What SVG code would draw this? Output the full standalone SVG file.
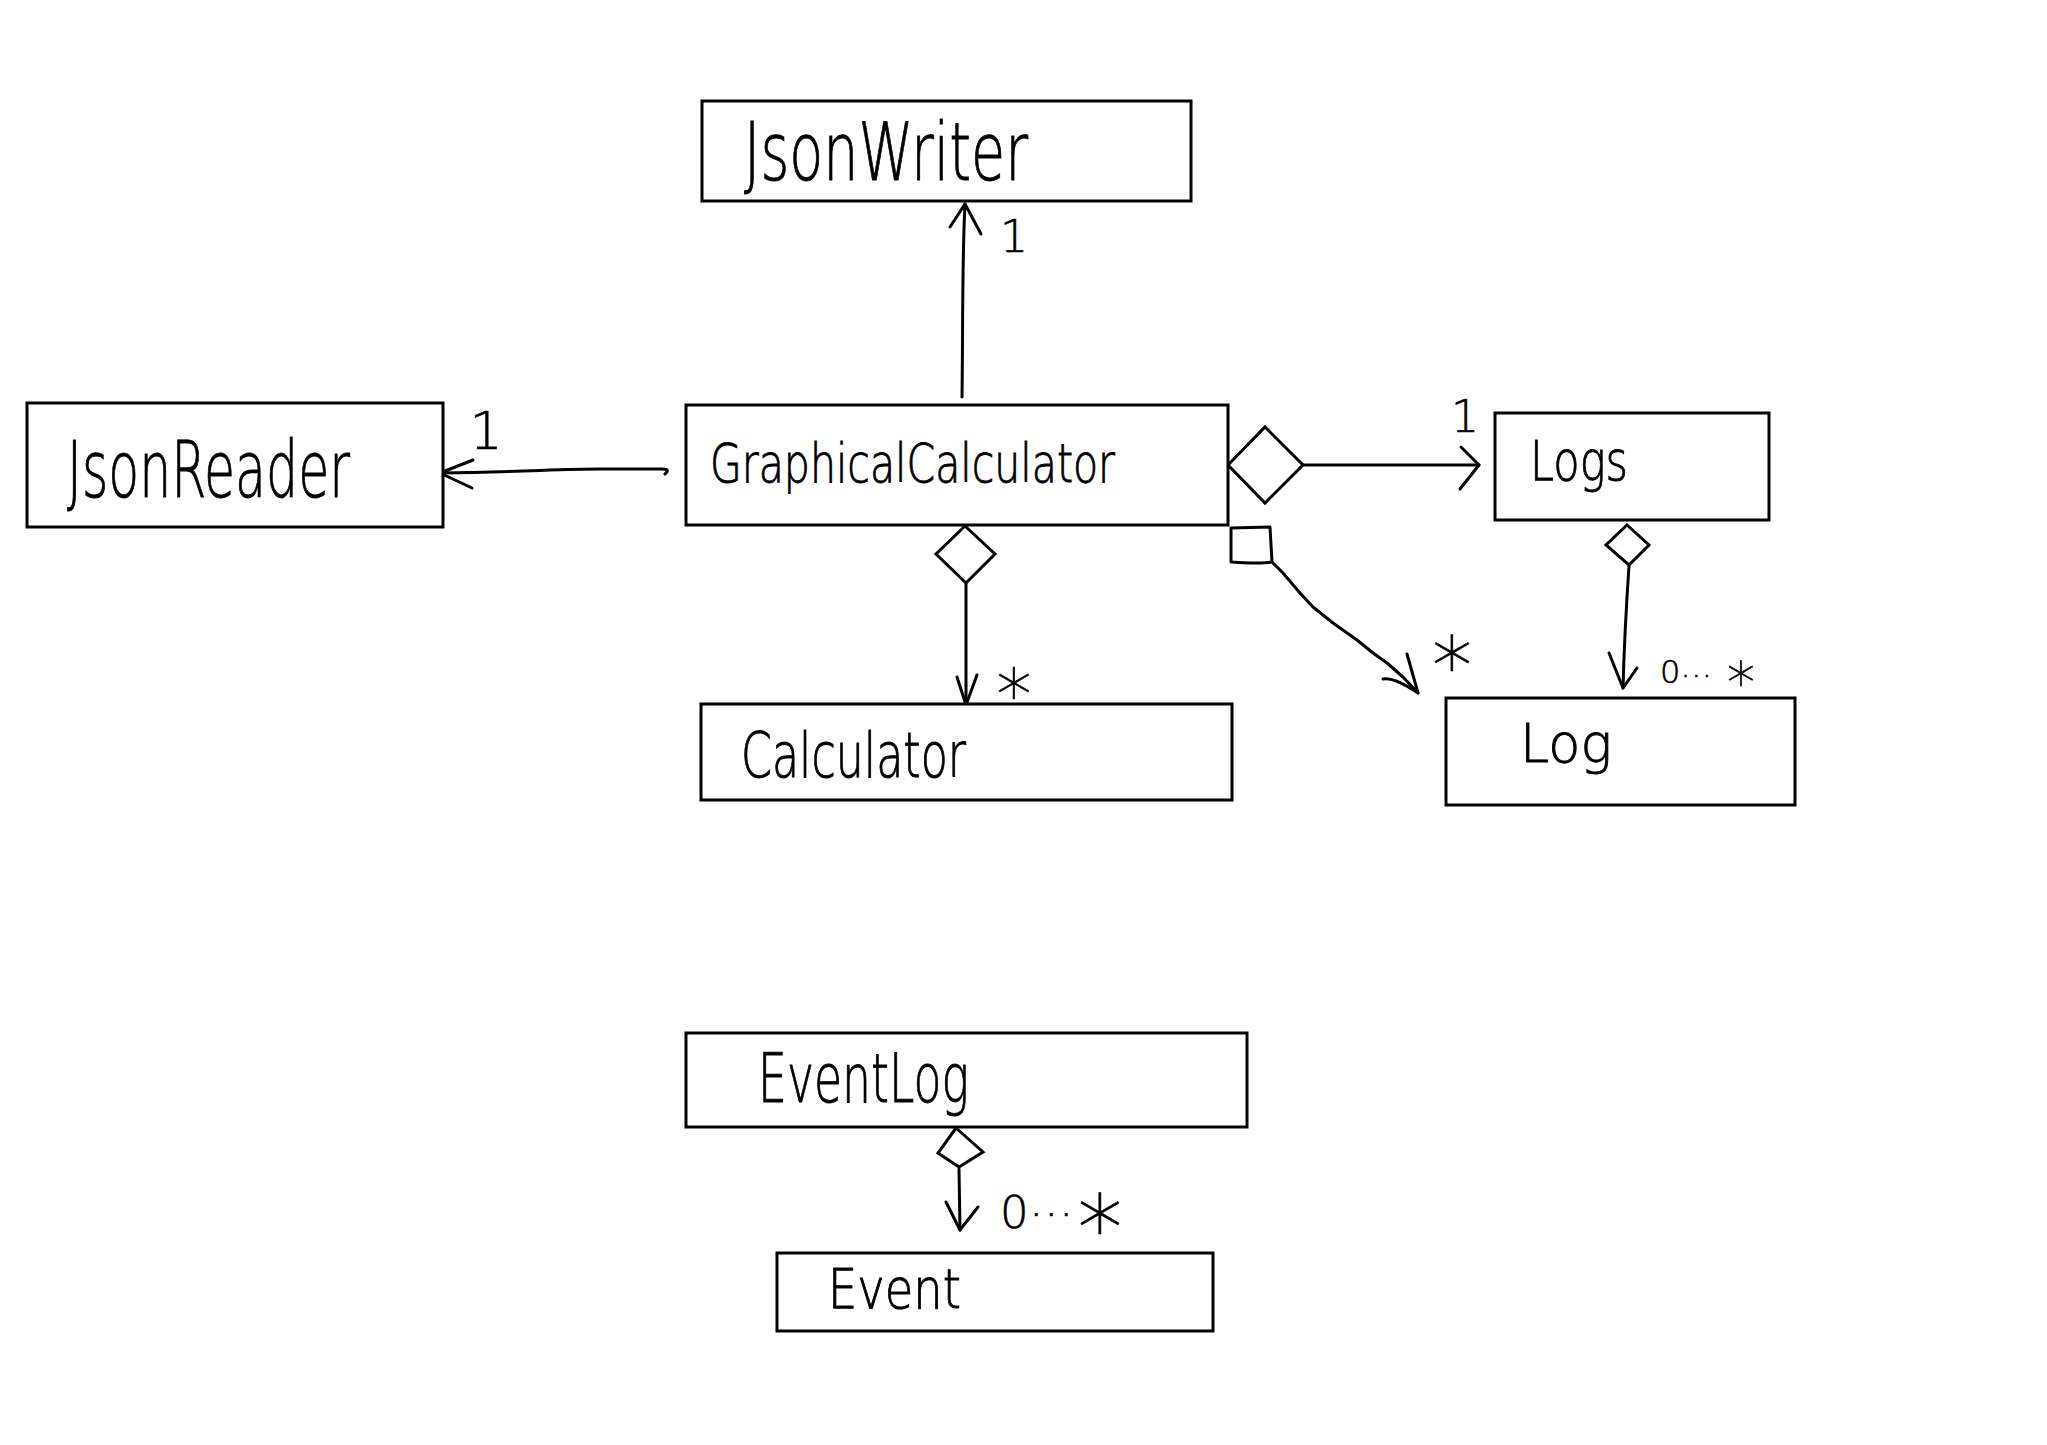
<svg xmlns="http://www.w3.org/2000/svg" width="2047" height="1445" viewBox="0 0 2047 1445">
<style>
  .box { fill: #ffffff; stroke: #000000; stroke-width: 3; }
  .name { font-family: "DejaVu Sans", "Liberation Sans", sans-serif; font-weight: 200; fill: #000000; stroke: #000000; stroke-width: 0.9; }
  .lbl { font-family: "DejaVu Sans", "Liberation Sans", sans-serif; font-weight: 200; fill: #000000; stroke: #000000; stroke-width: 0.6; }
  .ln { fill: none; stroke: #000000; stroke-width: 3; stroke-linecap: round; stroke-linejoin: round; }
  .dia { fill: #ffffff; stroke: #000000; stroke-width: 3; stroke-linejoin: miter; }
</style>
<rect x="0" y="0" width="2047" height="1445" fill="#ffffff"/>

<g id="connectors">
  <!-- GraphicalCalculator -> JsonWriter -->
  <g id="c-gc-jsonwriter">
    <path class="ln" d="M962,397 C963,330 962,260 965,204"/>
    <polyline class="ln" points="950,227 965,204 981,234"/>
    <text class="lbl" x="1014" y="252" font-size="44" text-anchor="middle">1</text>
  </g>
  <!-- GraphicalCalculator -> JsonReader -->
  <g id="c-gc-jsonreader">
    <path class="ln" d="M665,474 Q671,469 662,469 L600,469 C560,469 520,472 440,473"/>
    <polyline class="ln" points="473,460 440,473 472,488"/>
    <text class="lbl" x="486" y="449" font-size="52" text-anchor="middle">1</text>
  </g>
  <!-- GraphicalCalculator <>-> Logs -->
  <g id="c-gc-logs">
    <polygon class="dia" points="1228,465 1265,427 1303,465 1265,503"/>
    <line class="ln" x1="1303" y1="465" x2="1479" y2="465"/>
    <polyline class="ln" points="1461,447 1479,465 1460,489"/>
    <text class="lbl" x="1465" y="432" font-size="44" text-anchor="middle">1</text>
  </g>
  <!-- GraphicalCalculator <>-> Calculator -->
  <g id="c-gc-calculator">
    <polygon class="dia" points="936,554 965,526 995,554 966,583"/>
    <line class="ln" x1="966" y1="583" x2="966" y2="705"/>
    <polyline class="ln" points="957,677 966,705 977,675"/>
    <text class="lbl" x="1014" y="719" font-size="70" text-anchor="middle">*</text>
  </g>
  <!-- GraphicalCalculator []-> Log -->
  <g id="c-gc-log">
    <path class="ln" d="M1231,528 L1270,527 L1272,562 C1260,564 1245,563 1231,562 Z"/>
    <polyline class="ln" points="1272,562 1283,573 1300,593 1313,607 1333,623 1357,640 1373,653 1387,663 1403,677 1418,693"/>
    <path class="ln" d="M1407,654 L1418,693 M1383,679 Q1394,677 1418,693"/>
    <text class="lbl" x="1452" y="694" font-size="80" text-anchor="middle">*</text>
  </g>
  <!-- Logs <>-> Log -->
  <g id="c-logs-log">
    <polygon class="dia" points="1627,525 1649,545 1629,565 1606,545"/>
    <path class="ln" d="M1629,566 C1626,610 1624,650 1623,688"/>
    <polyline class="ln" points="1609,653 1623,688 1637,668"/>
    <text class="lbl" x="1660" y="683" font-size="32"><tspan>0</tspan><tspan dy="-6">…</tspan><tspan x="1741" y="702" font-size="56" text-anchor="middle">*</tspan></text>
  </g>
  <!-- EventLog <>-> Event -->
  <g id="c-eventlog-event">
    <polygon class="dia" points="956,1128 983,1152 959,1167 938,1153"/>
    <line class="ln" x1="959" y1="1169" x2="960" y2="1230"/>
    <polyline class="ln" points="946,1202 960,1230 978,1207"/>
    <text class="lbl" x="1000" y="1228" font-size="45"><tspan>0</tspan><tspan dy="-12">…</tspan><tspan x="1100" y="1260" font-size="90" text-anchor="middle">*</tspan></text>
  </g>
</g>

<g id="node-jsonwriter">
  <rect class="box" x="702" y="101" width="489" height="100"/>
  <text class="name" x="744" y="180" font-size="80" textLength="284" lengthAdjust="spacingAndGlyphs">JsonWriter</text>
</g>
<g id="node-jsonreader">
  <rect class="box" x="27" y="403" width="416" height="124"/>
  <text class="name" x="67" y="497" font-size="78" textLength="283" lengthAdjust="spacingAndGlyphs">JsonReader</text>
</g>
<g id="node-graphicalcalculator">
  <rect class="box" x="686" y="405" width="542" height="120"/>
  <text class="name" x="710" y="482" font-size="54" textLength="405" lengthAdjust="spacingAndGlyphs">GraphicalCalculator</text>
</g>
<g id="node-logs">
  <rect class="box" x="1495" y="413" width="274" height="107"/>
  <text class="name" x="1530" y="480" font-size="55" textLength="98" lengthAdjust="spacingAndGlyphs">Logs</text>
</g>
<g id="node-calculator">
  <rect class="box" x="701" y="704" width="531" height="96"/>
  <text class="name" x="741" y="777" font-size="62" textLength="225" lengthAdjust="spacingAndGlyphs">Calculator</text>
</g>
<g id="node-log">
  <rect class="box" x="1446" y="698" width="349" height="107"/>
  <text class="name" x="1520" y="762" font-size="54" textLength="92" lengthAdjust="spacingAndGlyphs">Log</text>
</g>
<g id="node-eventlog">
  <rect class="box" x="686" y="1033" width="561" height="94"/>
  <text class="name" x="758" y="1102" font-size="68" textLength="211" lengthAdjust="spacingAndGlyphs">EventLog</text>
</g>
<g id="node-event">
  <rect class="box" x="777" y="1253" width="436" height="78"/>
  <text class="name" x="828" y="1308" font-size="55" textLength="133" lengthAdjust="spacingAndGlyphs">Event</text>
</g>
</svg>
